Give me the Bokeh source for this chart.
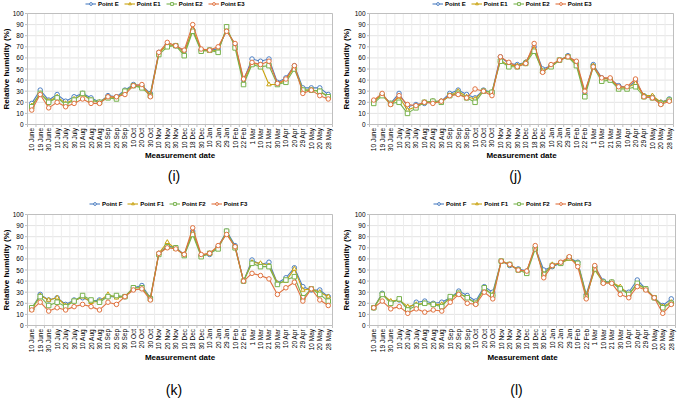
import math
from bokeh.plotting import figure
from bokeh.layouts import row, column
from bokeh.models import ColumnDataSource, Range1d, Legend, LegendItem
from bokeh.core.properties import value
from bokeh.embed import file_html
from bokeh.resources import INLINE

dates = ["10 June", "19 June", "30 June", "10 July", "20 July", "30 July", "10 Aug",
         "20 Aug", "30 Aug", "10 Sep", "20 Sep", "30 Sep", "10 Oct", "20 Oct", "30 Oct",
         "10 Nov", "20 Nov", "30 Nov", "10 Dec", "18 Dec", "30 Dec", "10 Jan", "20 Jan",
         "29 Jan", "10 Feb", "22 Feb", "1 Mar", "10 Mar", "21 Mar", "30 Mar", "10 Apr",
         "20 Apr", "29 Apr", "10 May", "20 May", "28 May"]
yticks = [0, 10, 20, 30, 40, 50, 60, 70, 80, 90, 100]

i_E = [19, 31, 22, 27, 21, 25, 28, 24, 20, 26, 25, 31, 36, 35, 28, 65, 72, 71, 66, 85, 67, 67, 68, 85, 72, 40, 59, 57, 59, 38, 42, 53, 33, 33, 33, 27]
i_E1 = [17, 28, 21, 25, 19, 23, 27, 22, 20, 25, 24, 30, 35, 34, 27, 64, 72, 71, 64, 86, 67, 66, 67, 86, 71, 38, 55, 54, 36, 36, 40, 52, 31, 31, 30, 25]
i_E2 = [16, 28, 20, 24, 18, 22, 28, 22, 20, 24, 23, 30, 35, 33, 26, 63, 70, 71, 62, 84, 66, 67, 65, 88, 69, 36, 54, 52, 53, 36, 38, 50, 31, 31, 30, 25]
i_E3 = [13, 27, 15, 20, 16, 19, 23, 19, 19, 25, 25, 27, 35, 36, 25, 65, 74, 71, 67, 90, 68, 67, 70, 84, 73, 41, 56, 54, 57, 37, 41, 53, 28, 31, 26, 23]

j_E = [21, 27, 19, 28, 16, 18, 19, 21, 21, 28, 31, 27, 24, 31, 29, 61, 55, 54, 56, 70, 50, 53, 58, 62, 56, 28, 54, 42, 41, 35, 33, 39, 26, 25, 20, 23]
j_E1 = [21, 27, 18, 25, 13, 16, 20, 21, 21, 26, 30, 25, 23, 30, 29, 58, 53, 53, 56, 68, 48, 52, 58, 61, 55, 27, 53, 41, 41, 33, 33, 37, 26, 26, 20, 22]
j_E2 = [19, 26, 19, 20, 10, 15, 20, 21, 20, 26, 28, 24, 20, 30, 29, 57, 52, 52, 55, 66, 48, 52, 58, 61, 53, 25, 52, 39, 40, 32, 32, 34, 25, 24, 19, 22]
j_E3 = [22, 28, 18, 26, 18, 17, 20, 19, 21, 26, 27, 24, 32, 30, 26, 61, 56, 52, 55, 73, 47, 54, 58, 61, 57, 30, 52, 42, 42, 34, 34, 41, 25, 24, 18, 21]

k_F = [15, 28, 23, 25, 19, 23, 25, 22, 23, 26, 26, 26, 34, 36, 25, 65, 72, 70, 64, 85, 63, 64, 71, 85, 72, 40, 59, 55, 57, 38, 43, 52, 35, 32, 32, 26]
k_F1 = [14, 27, 23, 25, 18, 22, 26, 21, 22, 28, 25, 26, 34, 34, 25, 65, 75, 69, 64, 84, 63, 65, 71, 83, 71, 40, 57, 56, 54, 38, 40, 51, 32, 33, 30, 26]
k_F2 = [16, 26, 18, 21, 17, 22, 27, 23, 21, 26, 27, 26, 34, 34, 24, 64, 71, 70, 63, 82, 62, 65, 69, 85, 70, 40, 56, 53, 53, 37, 41, 44, 25, 33, 28, 22]
k_F3 = [14, 21, 13, 16, 14, 17, 19, 17, 14, 21, 19, 26, 32, 33, 23, 65, 70, 69, 64, 88, 64, 65, 72, 82, 71, 40, 47, 45, 42, 28, 34, 39, 22, 33, 23, 18]

l_F = [16, 29, 21, 23, 15, 21, 22, 20, 21, 25, 31, 27, 22, 35, 30, 58, 54, 51, 49, 70, 50, 53, 56, 61, 57, 28, 53, 40, 39, 33, 30, 41, 33, 25, 18, 24]
l_F1 = [16, 28, 22, 23, 17, 19, 20, 19, 19, 24, 29, 25, 20, 33, 28, 58, 55, 50, 49, 70, 46, 55, 56, 60, 56, 27, 50, 39, 39, 35, 28, 37, 33, 25, 17, 21]
l_F2 = [16, 28, 20, 24, 14, 18, 20, 19, 17, 26, 29, 25, 20, 34, 27, 58, 55, 50, 47, 69, 46, 54, 56, 61, 56, 26, 51, 39, 39, 33, 28, 38, 33, 25, 16, 20]
l_F3 = [16, 22, 15, 17, 11, 15, 12, 14, 13, 21, 28, 20, 19, 30, 24, 58, 55, 50, 49, 72, 43, 54, 57, 62, 53, 24, 54, 38, 38, 28, 25, 35, 32, 25, 11, 19]

names_E = ["Point E", "Point E1", "Point E2", "Point E3"]
names_F = ["Point F", "Point F1", "Point F2", "Point F3"]
tags = ["(i)", "(j)", "(k)", "(l)"]

colors = ["#4E7FC2", "#C9A20E", "#78B24E", "#E0723F"]
markers = ["circle", "triangle", "square", "circle"]

FONT = "Liberation Sans"


def make_panel(series, names, tag, width, height, pl, pr, pt, pb, leg_x, date_dy, tag_dy):
    n = len(dates)
    ppx = (width - pl - pr) / n          # pixels per category
    ppy = (height - pt - pb) / 100.0     # pixels per humidity unit
    dx = lambda px: px / ppx
    dy = lambda px: px / ppy

    p = figure(width=width, height=height,
               x_range=Range1d(-dx(pl), n + dx(pr)), y_range=Range1d(-dy(pb), 100 + dy(pt)),
               output_backend="svg", toolbar_location=None,
               min_border_left=0, min_border_right=0, min_border_top=0, min_border_bottom=0)
    p.axis.visible = False
    p.grid.visible = False
    p.outline_line_color = None
    p.background_fill_color = "white"

    xs = [i + 0.5 for i in range(n)]
    bounds = list(range(n + 1))

    # grid
    p.segment(x0=0, x1=n, y0=yticks, y1=yticks, line_color="#E3E3E3", line_width=1)
    p.segment(x0=bounds, x1=bounds, y0=0, y1=100, line_color="#EDEDED", line_width=1)
    # plot-area border and ticks
    p.quad(left=0, right=n, bottom=0, top=100, fill_color=None, line_color="#BFBFBF", line_width=1)
    p.segment(x0=bounds, x1=bounds, y0=0, y1=-dy(2.5), line_color="#BFBFBF", line_width=1)
    p.segment(x0=-dx(2.5), x1=0, y0=yticks, y1=yticks, line_color="#BFBFBF", line_width=1)

    # data
    src = ColumnDataSource(dict(x=xs, s0=series[0], s1=series[1], s2=series[2], s3=series[3]))
    items = []
    for k in range(4):
        col = "s%d" % k
        lr = p.line(x="x", y=col, source=src, line_color=colors[k], line_width=1.1)
        sr = p.scatter(x="x", y=col, source=src, marker=markers[k], size=4.5,
                       line_color=colors[k], fill_color="white", line_width=1)
        items.append(LegendItem(label=names[k], renderers=[lr, sr]))

    # tick labels
    p.text(x=-dx(4), y=yticks, text=[str(t) for t in yticks], text_align="right",
           text_baseline="middle", text_font=value(FONT), text_font_size="6.5px",
           text_color="#000000")
    p.text(x=xs, y=-dy(3.5), text=dates, angle=math.pi / 2, text_align="right",
           text_baseline="middle", text_font=value(FONT), text_font_size="6.5px",
           text_color="#000000")
    # axis titles
    p.text(x=[-dx(pl - 6)], y=[50], text=["Relative humidity (%)"], angle=math.pi / 2,
           text_align="center", text_baseline="middle", text_font=value(FONT),
           text_font_style="bold", text_font_size="8px", text_color="#000000")
    p.text(x=[n / 2], y=[-dy(date_dy)], text=["Measurement date"], text_align="center",
           text_baseline="middle", text_font=value(FONT), text_font_style="bold",
           text_font_size="8px", text_color="#000000")
    p.text(x=[n / 2 - dx(6)], y=[-dy(tag_dy)], text=[tag], text_align="center",
           text_baseline="middle", text_font=value(FONT), text_font_size="14px",
           text_color="#000000")

    legend = Legend(items=items, orientation="horizontal", location=(leg_x, height - 7),
                    label_text_font=FONT, label_text_font_style="bold",
                    label_text_font_size="6px", label_text_color="#000000",
                    label_height=7, glyph_height=7, glyph_width=11, label_standoff=2,
                    spacing=5, padding=0, margin=0,
                    border_line_color=None, background_fill_alpha=0)
    p.add_layout(legend, "center")
    return p


p_i = make_panel([i_E, i_E1, i_E2, i_E3], names_E, tags[0], 340, 200, 27, 8, 13, 76, 85, 31, 51)
p_j = make_panel([j_E, j_E1, j_E2, j_E3], names_E, tags[1], 337, 200, 29, 4, 13, 76, 92, 31, 51)
p_k = make_panel([k_F, k_F1, k_F2, k_F3], names_F, tags[2], 340, 199, 27, 8, 14, 74, 89, 32, 64)
p_l = make_panel([l_F, l_F1, l_F2, l_F3], names_F, tags[3], 337, 199, 29, 2, 14, 74, 93, 32, 64)

layout = column(row(p_i, p_j), row(p_k, p_l))

open("out.html", "w").write(file_html(layout, INLINE))
